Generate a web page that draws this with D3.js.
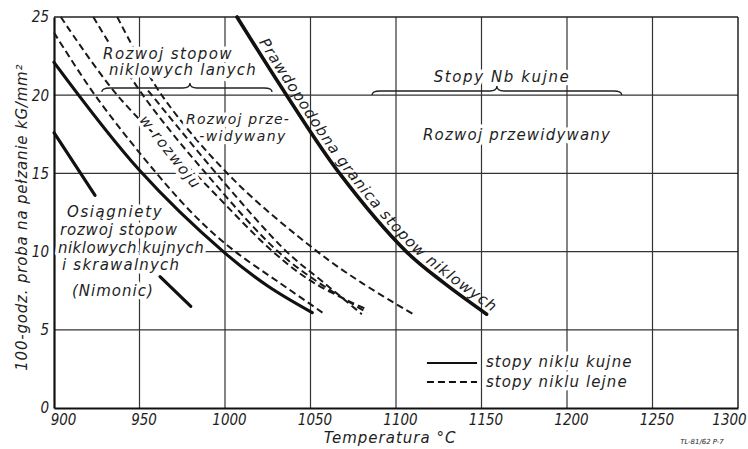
<!DOCTYPE html>
<html>
<head>
<meta charset="utf-8">
<script src="https://cdn.jsdelivr.net/npm/d3@7"></script>
<style>
  body { margin: 0; background: #fff; }
  svg { display: block; }
  text { font-family: "DejaVu Sans", sans-serif; font-style: italic; fill: #1e1e1e; }
  .halo { paint-order: stroke; stroke: #fff; stroke-width: 7px; stroke-linejoin: round; }
</style>
</head>
<body>
<div id="wykres"></div>
<script>
// Osie
const temperatury = [900, 950, 1000, 1050, 1100, 1150, 1200, 1250, 1300]
const naprezenia = [0, 5, 10, 15, 20, 25]

// Krzywe ciagle (stopy niklu kujne)
const granicaT = [1007, 1036, 1067, 1106, 1128, 1153]
const granicaS = [25, 20, 15, 10, 8, 6]
const kujneT = [900, 950, 1000, 1025, 1051]
const kujneS = [22.1, 15.2, 9.9, 7.8, 6.1]
const kujneKrotkaT = [900, 924]
const kujneKrotkaS = [17.6, 13.6]
const nimonicT = [962, 980]
const nimonicS = [8.4, 6.5]

// Krzywe przerywane (stopy niklu lejne)
const lane1T = [900, 924, 960, 985, 1006, 1032, 1057]
const lane1S = [24.0, 20, 15, 12, 10, 8, 6.1]
const lane2T = [904, 937, 986, 1028, 1052, 1083]
const lane2S = [25, 20, 14.6, 10, 8, 6.3]
const lane3T = [923, 952, 992, 1031, 1055, 1083]
const lane3S = [25, 20, 14.6, 10, 8, 6.1]
const lane4T = [955, 998, 1036, 1058, 1080]
const lane4S = [20.3, 14.6, 10, 8, 6.0]
const lane5T = [937, 963, 1005, 1054, 1080, 1110]
const lane5S = [25, 20, 14.6, 10, 8, 6.0]

const szer = 748
const wys = 449

const svg = d3.select('#wykres')
    .append('svg')
    .attr('width', szer)
    .attr('height', wys)

const x = d3.scaleLinear().domain([900, 1300]).range([54, 738])
const y = d3.scaleLinear().domain([0, 25]).range([408, 17])

// Siatka
svg.append('g')
    .selectAll('line')
    .data(temperatury.slice(1, -1))
    .enter()
    .append('line')
    .attr('x1', d => x(d)).attr('x2', d => x(d))
    .attr('y1', y(0)).attr('y2', y(25))
    .attr('stroke', '#333').attr('stroke-width', 1.2)

svg.append('g')
    .selectAll('line')
    .data(naprezenia.slice(1, -1))
    .enter()
    .append('line')
    .attr('x1', x(900)).attr('x2', x(1300))
    .attr('y1', d => y(d)).attr('y2', d => y(d))
    .attr('stroke', '#333').attr('stroke-width', 1.2)

// Ramka
svg.append('line').attr('x1', x(900)).attr('x2', x(1300)).attr('y1', y(25)).attr('y2', y(25))
    .attr('stroke', '#222').attr('stroke-width', 1.5)
svg.append('line').attr('x1', x(1300)).attr('x2', x(1300)).attr('y1', y(25)).attr('y2', y(0))
    .attr('stroke', '#222').attr('stroke-width', 1.5)

// Osie z etykietami
const osX = svg.append('g')
    .attr('transform', `translate(0, ${y(0)})`)
    .call(d3.axisBottom(x).tickValues(temperatury).tickSize(0).tickPadding(6).tickFormat(d3.format('d')))
osX.select('.domain').attr('stroke', '#111').attr('stroke-width', 2.2)
osX.selectAll('text').attr('font-size', 15)
    .attr('dx', (d, i) => i === 0 ? 9 : (i === temperatury.length - 1 ? -9 : 4))
    .style('font-family', '"DejaVu Sans Condensed", "DejaVu Sans", sans-serif')

const osY = svg.append('g')
    .attr('transform', `translate(${x(900)}, 0)`)
    .call(d3.axisLeft(y).tickValues(naprezenia).tickSize(0).tickPadding(5))
osY.select('.domain').attr('stroke', '#111').attr('stroke-width', 2.2)
osY.selectAll('text').attr('font-size', 15)
    .style('font-family', '"DejaVu Sans Condensed", "DejaVu Sans", sans-serif')

// Linie
const linia = d3.line().x(d => x(d[0])).y(d => y(d[1])).curve(d3.curveCatmullRom)
const prosta = d3.line().x(d => x(d[0])).y(d => y(d[1]))
const pary = (t, s) => t.map((d, i) => [d, s[i]])

const ciagle = [
    { t: granicaT, s: granicaS, w: 3.6 },
    { t: kujneT, s: kujneS, w: 3.2 },
    { t: kujneKrotkaT, s: kujneKrotkaS, w: 3.2 },
    { t: nimonicT, s: nimonicS, w: 3.2 }
]
const przerywane = [
    { t: lane1T, s: lane1S },
    { t: lane2T, s: lane2S },
    { t: lane3T, s: lane3S },
    { t: lane4T, s: lane4S },
    { t: lane5T, s: lane5S }
]

svg.append('g')
    .selectAll('path')
    .data(przerywane)
    .enter()
    .append('path')
    .attr('d', d => linia(pary(d.t, d.s)))
    .attr('fill', 'none')
    .attr('stroke', '#1a1a1a')
    .attr('stroke-width', 2)
    .attr('stroke-dasharray', '7 4')

svg.append('g')
    .selectAll('path')
    .data(ciagle)
    .enter()
    .append('path')
    .attr('d', d => linia(pary(d.t, d.s)))
    .attr('fill', 'none')
    .attr('stroke', '#111')
    .attr('stroke-width', d => d.w)
    .attr('stroke-linecap', 'round')

// Opisy (biala obwodka przerywa siatke i linie jak na oryginale)
function opis(tekst, T, S, opcje = {}) {
    return svg.append('text')
        .attr('class', 'halo')
        .attr('x', x(T))
        .attr('y', y(S))
        .attr('text-anchor', opcje.anchor || 'middle')
        .attr('dominant-baseline', 'middle')
        .attr('font-size', opcje.size || 15)
        .attr('letter-spacing', opcje.ls === undefined ? 1 : opcje.ls)
        .text(tekst)
}

opis('Rozwoj stopow', 966.7, 22.63, { ls: 1.4 })
opis('niklowych lanych', 975.4, 21.55, { ls: 1.2 })
opis('Rozwoj prze-', 1007.6, 18.42, { size: 14, ls: 1.2 })
opis('-widywany', 1010.5, 17.3, { size: 14, ls: 1.4 })
opis('Stopy Nb kujne', 1162, 21.16, { ls: 1.6 })
opis('Rozwoj przewidywany', 1170.8, 17.45, { ls: 1.2 })
opis('Osiągniety', 907.6, 12.53, { anchor: 'start', ls: 1.6 })
opis('rozwoj stopow', 903.5, 11.38, { anchor: 'start', ls: 0.8 })
opis('niklowych kujnych', 902.3, 10.23, { anchor: 'start', ls: 0.5 })
opis('i skrawalnych', 904.7, 9.08, { anchor: 'start', ls: 1.2 })
opis('(Nimonic)', 910.5, 7.42, { anchor: 'start', size: 15, ls: 1 })
opis('stopy niklu kujne', 1152.6, 2.88, { anchor: 'start', ls: 1.1 })
opis('stopy niklu lejne', 1152.6, 1.66, { anchor: 'start', ls: 1.1 })

// Klamry
function klamra(T0, T1, Tm, S) {
    const x0 = x(T0), x1 = x(T1), xm = x(Tm), yy = y(S)
    const p = `M${x0},${yy + 4} Q${x0},${yy} ${x0 + 8},${yy} L${xm - 7},${yy} Q${xm},${yy} ${xm},${yy - 5}` +
        ` Q${xm},${yy} ${xm + 7},${yy} L${x1 - 8},${yy} Q${x1},${yy} ${x1},${yy + 4}`
    svg.append('path').attr('d', p).attr('fill', 'none').attr('stroke', '#222').attr('stroke-width', 1.4)
}
klamra(928, 1027.5, 979.5, 20.46)
klamra(1086, 1232, 1159, 20.27)

// Napis litera po literze wzdluz sciezki
function napisWzdluz(d, tekst, start, dlugosc, rozmiar, dy, halo) {
    const node = svg.append('path').attr('d', d).attr('fill', 'none').attr('stroke', 'none').node()
    const L = node.getTotalLength()
    const miara = svg.append('text').attr('font-size', rozmiar).text(tekst)
    const m = miara.node()
    const n = tekst.length
    const extra = n > 1 ? (dlugosc - m.getComputedTextLength()) / (n - 1) : 0
    const x0 = m.getStartPositionOfChar(0).x
    const srodki = d3.range(n).map(i =>
        m.getStartPositionOfChar(i).x - x0 + m.getSubStringLength(i, 1) / 2 + i * extra)
    miara.remove()
    const punkt = s => {
        if (s <= L) return node.getPointAtLength(s)
        const a = node.getPointAtLength(L - 2), b = node.getPointAtLength(L)
        const k = (s - L) / 2
        return { x: b.x + (b.x - a.x) * k, y: b.y + (b.y - a.y) * k }
    }
    tekst.split('').forEach((c, i) => {
        if (c === ' ') return
        const s = start + srodki[i]
        const p = punkt(s)
        const a = punkt(Math.max(0, s - 1.5)), b = punkt(s + 1.5)
        const kat = Math.atan2(b.y - a.y, b.x - a.x) * 180 / Math.PI
        svg.append('text')
            .attr('class', halo ? 'halo' : null)
            .attr('transform', `translate(${p.x},${p.y}) rotate(${kat}) translate(0,${dy})`)
            .attr('text-anchor', 'middle')
            .attr('font-size', rozmiar)
            .text(c)
    })
}

// "w rozwoju" na przerwanej linii lanej
napisWzdluz(prosta([[946, 19.4], [989.3, 13.4]]), 'w rozwoju', 16, 88, 15, 5, true)

// Napis wzdluz granicy
napisWzdluz(linia(pary(granicaT, granicaS)), 'Prawdopodobna granica stopow niklowych', 33, 362, 15, -5, false)

// Legenda
svg.append('line')
    .attr('x1', x(1118.1)).attr('x2', x(1147.4))
    .attr('y1', y(2.88)).attr('y2', y(2.88))
    .attr('stroke', '#111').attr('stroke-width', 2)
svg.append('line')
    .attr('x1', x(1118.1)).attr('x2', x(1147.4))
    .attr('y1', y(1.66)).attr('y2', y(1.66))
    .attr('stroke', '#111').attr('stroke-width', 2)
    .attr('stroke-dasharray', '7 4')

// Opisy osi
svg.append('text')
    .attr('transform', `translate(22, ${y(12.2)}) rotate(-90)`)
    .attr('text-anchor', 'middle')
    .attr('dominant-baseline', 'middle')
    .attr('font-size', 15)
    .attr('letter-spacing', 0.8)
    .text('100-godz. proba na pełzanie  kG/mm²')

svg.append('text')
    .attr('x', 390)
    .attr('y', 438)
    .attr('text-anchor', 'middle')
    .attr('dominant-baseline', 'middle')
    .attr('font-size', 15)
    .attr('letter-spacing', 1)
    .text('Temperatura  °C')

svg.append('text')
    .attr('x', 702)
    .attr('y', 442)
    .attr('text-anchor', 'middle')
    .attr('dominant-baseline', 'middle')
    .attr('font-size', 7)
    .text('TL-81/62 P-7')
</script>
</body>
</html>
